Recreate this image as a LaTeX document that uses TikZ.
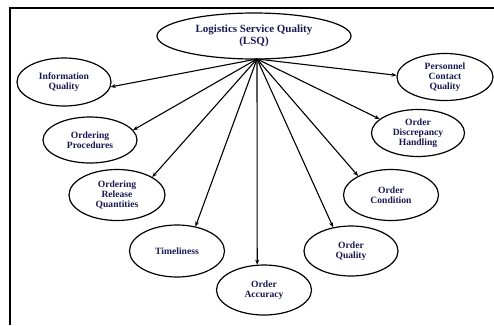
\documentclass[tikz,border=0pt]{standalone}
\usepackage{fontspec}
\setmainfont{Liberation Serif}
\usetikzlibrary{shapes.geometric,arrows.meta}
\begin{document}
\begin{tikzpicture}[x=1pt,y=-1pt,
  elp/.style={ellipse,draw,line width=1.2pt,inner sep=0pt,minimum width=#1,align=center,
    font=\fontsize{9.6}{10}\selectfont\bfseries,text=black!75!blue!90!white},
  conn/.style={line width=1.1pt,-{Stealth[length=5pt,width=4pt]}}]
\useasboundingbox (0,0) rectangle (494,325);
\draw[line width=1.8pt] (10,325) -- (10,8) -- (494,8);
\node[elp=194pt,minimum height=46pt,font=\fontsize{11}{12}\selectfont\bfseries] (lsq) at (254,36) {Logistics Service Quality\\(LSQ)};
\coordinate (hub) at (257,59);
\node[elp=94pt,minimum height=48pt] (iq) at (64,82) {Information\\Quality};
\node[elp=94pt,minimum height=46pt] (op) at (90,140) {Ordering\\Procedures};
\node[elp=96pt,minimum height=51pt] (orq) at (117,195) {Ordering\\Release\\Quantities};
\node[elp=95pt,minimum height=52pt] (tl) at (177,251) {Timeliness};
\node[elp=95pt,minimum height=50pt] (oa) at (264,290) {Order\\Accuracy};
\node[elp=94pt,minimum height=50pt] (oq) at (351,251) {Order\\Quality};
\node[elp=95pt,minimum height=51pt] (oc) at (391,195) {Order\\Condition};
\node[elp=93pt,minimum height=47pt] (odh) at (418,133) {Order\\Discrepancy\\Handling};
\node[elp=96pt,minimum height=47pt] (pcq) at (445,77) {Personnel\\Contact\\Quality};
\draw[conn] (hub) -- (iq.-6);
\draw[conn] (hub) -- (op.13);
\draw[conn] (hub) -- (orq.27);
\draw[conn] (hub) -- (tl.53);
\draw[conn] (hub) -- (oa.105);
\draw[conn] (hub) -- (oq.127);
\draw[conn] (hub) -- (oc.150);
\draw[conn] (hub) -- (odh.160);
\draw[conn] (hub) -- (pcq.178);
\end{tikzpicture}
\end{document}
